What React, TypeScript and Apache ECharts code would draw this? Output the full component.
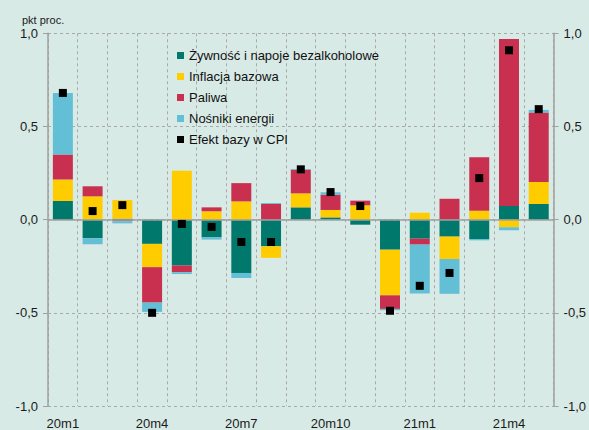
import React, { useEffect, useRef } from "react";
import * as echarts from "echarts";

const categories = ["20m1", "20m2", "20m3", "20m4", "20m5", "20m6", "20m7", "20m8", "20m9", "20m10", "20m11", "20m12", "21m1", "21m2", "21m3", "21m4", "21m5"];
const food = [0.10, -0.10, 0.005, -0.13, -0.246, -0.095, -0.286, -0.143, 0.066, 0.012, -0.027, -0.161, -0.102, -0.091, -0.104, 0.073, 0.084];
const core = [0.116, 0.125, 0.10, -0.125, 0.262, 0.045, 0.098, -0.062, 0.075, 0.04, 0.077, -0.245, 0.037, -0.12, 0.048, -0.041, 0.118];
const fuel = [0.134, 0.054, -0.008, -0.19, -0.036, 0.021, 0.098, 0.084, 0.127, 0.082, 0.025, -0.073, -0.032, 0.112, 0.287, 0.897, 0.373];
const energy = [0.33, -0.032, -0.012, -0.05, -0.01, -0.012, -0.027, 0.005, 0.004, 0.013, 0, -0.007, -0.262, -0.187, -0.007, -0.016, 0.014];
const baseEffect = [0.68, 0.046, 0.078, -0.50, -0.023, -0.039, -0.12, -0.12, 0.27, 0.148, 0.073, -0.489, -0.355, -0.286, 0.223, 0.909, 0.593];

const seriesNames = ["Żywność i napoje bezalkoholowe", "Inflacja bazowa", "Paliwa", "Nośniki energii", "Efekt bazy w CPI"];
const unitLabel = "pkt proc.";

const FONT = '"Liberation Sans", Arial, sans-serif';
const GRID = "#a9a9a9";
const AXIS = "#a0a0a0";

export default function App() {
  const ref = useRef<HTMLDivElement>(null);
  useEffect(() => {
    if (!ref.current) return;
    const chart = echarts.init(ref.current, null, { renderer: "svg" });
    const fmt = (v: number) => v.toFixed(1).replace(".", ",");
    const yAxisBase = (pos: "left" | "right", split: boolean) => ({
      type: "value",
      position: pos,
      min: -1,
      max: 1,
      interval: 0.5,
      axisLine: { show: true, lineStyle: { color: AXIS, width: 1.5 } },
      axisTick: { show: true, length: 5, lineStyle: { color: AXIS } },
      axisLabel: { formatter: fmt, fontSize: 13, color: "#1a1a1a", fontFamily: FONT, margin: 10 },
      splitLine: { show: split, lineStyle: { color: GRID, type: [3, 3], width: 1 } },
    });
    const bar = (name: string, data: number[], color: string) => ({
      name,
      type: "bar",
      stack: "a",
      data,
      barWidth: 20,
      itemStyle: { color },
    });
    chart.setOption({
      animation: false,
      backgroundColor: "#d8eae6",
      textStyle: { fontFamily: FONT },
      title: {
        text: unitLabel,
        left: 17,
        top: 9,
        textStyle: { fontSize: 11, fontWeight: "normal", color: "#1a1a1a", fontFamily: FONT, lineHeight: 12 },
      },
      grid: { left: 48, right: 29, top: 33.3, bottom: 23.3, containLabel: false },
      legend: {
        orient: "vertical",
        left: 172,
        top: 44,
        itemWidth: 7,
        itemHeight: 7,
        itemGap: 8,
        icon: "rect",
        data: seriesNames,
        textStyle: { fontSize: 13, color: "#111", fontFamily: FONT },
      },
      xAxis: {
        type: "category",
        data: categories,
        boundaryGap: true,
        axisLine: { show: false, onZero: false },
        axisTick: { show: false, interval: 0 },
        axisLabel: { interval: 2, fontSize: 13, color: "#1a1a1a", fontFamily: FONT, margin: 11 },
        splitLine: { show: true, interval: 0, lineStyle: { color: GRID, type: [3, 3], width: 1 } },
      },
      yAxis: [yAxisBase("left", true), yAxisBase("right", false)],
      series: [
        {
          ...bar(seriesNames[0], food, "#00786b"),
          markLine: {
            silent: true,
            symbol: "none",
            label: { show: false },
            lineStyle: { color: AXIS, type: "solid", width: 1.5 },
            data: [{ yAxis: 0 }],
          },
        },
        bar(seriesNames[1], core, "#ffcc00"),
        bar(seriesNames[2], fuel, "#c9304f"),
        bar(seriesNames[3], energy, "#63bfd5"),
        {
          name: seriesNames[4],
          type: "scatter",
          data: baseEffect,
          symbol: "rect",
          symbolSize: 8,
          itemStyle: { color: "#000", opacity: 1 },
          z: 5,
        },
      ],
    });
    return () => chart.dispose();
  }, []);
  return <div ref={ref} style={{ position: "fixed", left: 0, top: 0, width: 589, height: 430 }} />;
}
